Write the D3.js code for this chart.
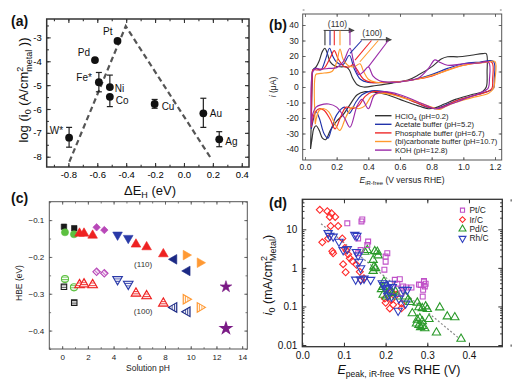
<!DOCTYPE html>
<html><head><meta charset="utf-8">
<script src="https://cdn.jsdelivr.net/npm/d3@7"></script>
<style>body{margin:0;background:#fff}svg{display:block}</style>
</head><body><svg id="c" width="525" height="383"></svg>
<script>
// ---------------- Panel (a) data ----------------
const aMetal = ["Pt","Pd","Fe*","Ni","Co","Cu","Au","Ag","W*"];
const aDEH   = [-0.46,-0.616,-0.589,-0.513,-0.513,-0.203,0.134,0.244,-0.795];
const aLogI0 = [-3.15,-3.95,-4.88,-5.08,-5.49,-5.79,-6.18,-7.27,-7.2];
const aErrHi = [null,null,-4.47,-4.58,null,-5.6,-5.55,-6.95,-6.77];
const aErrLo = [null,null,-5.28,null,-5.9,-5.97,-6.77,-7.58,-7.6];
const aVolcanoX = [-0.793,-0.403,0.187];
const aVolcanoY = [-8.21,-2.53,-8.07];
const aXTicks = [-0.8,-0.6,-0.4,-0.2,0.0,0.2,0.4];
const aYTicks = [-3,-4,-5,-6,-7,-8];

// ---------------- Panel (b) data ----------------
const bHClO4 = [[0.035,-40],[0.04,-20],[0.045,5],[0.05,11],[0.07,13],[0.09,17],[0.11,23],[0.126,25],[0.14,22],[0.16,16],[0.19,13.5],[0.23,13],[0.26,13],[0.28,11],[0.3,6],[0.33,1.5],[0.37,0],[0.45,1],[0.55,2.5],[0.65,4.5],[0.72,8],[0.8,13],[0.86,18],[0.9,19.5],[0.97,19.5],[1.05,20.5],[1.12,21.5],[1.145,21.5],[1.15,10],[1.145,0],[1.12,-3],[1.05,-5],[0.95,-8],[0.88,-11],[0.82,-13.5],[0.78,-14],[0.74,-13],[0.68,-11],[0.6,-8],[0.52,-5],[0.45,-3.5],[0.38,-3],[0.33,-5],[0.28,-12],[0.24,-18],[0.2,-22],[0.16,-28],[0.13,-34],[0.11,-33],[0.09,-28],[0.07,-25],[0.055,-27],[0.045,-33],[0.035,-40]];
const bAcetate = [[0.04,-27],[0.045,5],[0.05,11],[0.07,12],[0.1,11],[0.13,18],[0.155,25],[0.175,20],[0.2,16],[0.24,14.5],[0.28,20.5],[0.31,12],[0.35,5],[0.4,3],[0.5,3],[0.6,3.5],[0.7,5],[0.8,8],[0.9,12],[1.0,15],[1.1,16],[1.19,16.5],[1.195,5],[1.19,-1],[1.15,-3],[1.05,-6],[0.95,-9],[0.87,-12.5],[0.82,-14],[0.77,-13],[0.7,-10],[0.6,-6],[0.5,-3],[0.42,-2.5],[0.36,-5],[0.32,-10],[0.28,-17],[0.25,-13],[0.2,-18],[0.17,-26],[0.145,-33],[0.12,-30],[0.09,-20],[0.07,-16],[0.055,-20],[0.04,-27]];
const bPhosphate = [[0.04,-26],[0.045,5],[0.05,11],[0.08,11],[0.12,12],[0.16,19],[0.185,23.5],[0.21,18],[0.25,13],[0.28,13],[0.305,14.5],[0.33,11],[0.37,5],[0.42,3],[0.5,3],[0.6,3.5],[0.7,5],[0.8,7],[0.9,11],[1.0,14],[1.1,15.5],[1.18,16],[1.185,5],[1.18,-1],[1.15,-3],[1.05,-6],[0.95,-9],[0.88,-12.5],[0.83,-14],[0.78,-13],[0.7,-10],[0.6,-6],[0.5,-3.5],[0.43,-3],[0.38,-6],[0.34,-12],[0.3,-14],[0.26,-13],[0.23,-18],[0.19,-27],[0.16,-21],[0.12,-15],[0.09,-14],[0.06,-17],[0.04,-26]];
const bCarbonate = [[0.065,-24],[0.068,8],[0.08,8.5],[0.12,9],[0.17,10],[0.2,16],[0.221,24.5],[0.24,18],[0.27,14],[0.31,13],[0.347,15],[0.37,10],[0.4,5],[0.45,3],[0.55,3],[0.65,4],[0.75,6],[0.85,9],[0.95,12.5],[1.05,15],[1.15,16],[1.2,16.5],[1.2,5],[1.19,-1],[1.16,-4],[1.05,-7],[0.95,-10],[0.88,-13],[0.85,-14.5],[0.8,-13],[0.72,-10],[0.62,-7],[0.55,-5],[0.47,-4],[0.42,-6],[0.38,-12],[0.34,-14],[0.3,-13],[0.26,-19],[0.22,-28],[0.19,-24],[0.15,-16],[0.12,-14],[0.09,-15],[0.07,-21],[0.065,-24]];
const bKOH = [[0.04,-25],[0.05,10],[0.07,12],[0.1,11.5],[0.15,12],[0.2,12.5],[0.24,16],[0.284,25],[0.31,15],[0.34,8],[0.37,10],[0.4,13],[0.43,7],[0.47,4],[0.55,3],[0.65,4],[0.72,6],[0.78,12],[0.82,17.5],[0.85,16],[0.9,14],[1.0,15],[1.1,15.5],[1.16,16],[1.165,5],[1.155,-1],[1.1,-4],[1.0,-8],[0.92,-11],[0.86,-13.5],[0.82,-14],[0.78,-12.5],[0.7,-9],[0.6,-5],[0.5,-3],[0.44,-5],[0.4,-14],[0.36,-8],[0.33,-12],[0.284,-26],[0.25,-20],[0.2,-13],[0.15,-11],[0.1,-11.5],[0.07,-13],[0.05,-17],[0.04,-25]];
const bNames = ["HClO4","Acetate buffer (pH=5.2)","Phosphate buffer (pH=6.7)","(bi)carbonate buffer (pH=10.7)","KOH (pH=12.8)"];
const bPeak110V = [0.126,0.158,0.185,0.221,0.284];
const bPeak100From = [0.358,0.42,0.463,0.526];
const bPeak100ToV = [0.284,0.316,0.347,0.4];
const bPeak100ToI = [21.7,17.4,16.3,13];
const bXTicks = [0,0.2,0.4,0.6,0.8,1.0,1.2];
const bYTicks = [-40,-30,-20,-10,0,10,20,30,40];

// ---------------- Panel (c) data ----------------
const cSqPH=[0.14,0.94],  cSq110=[-0.118,-0.122],  cSq100=[-0.281,-0.324];
const cCirPH=[0.22,0.92], cCir110=[-0.133,-0.1385], cCir100=[-0.26,-0.2825];
const cUpPH=[1.35,1.7,2.37,5.74,6.57,7.87];
const cUp110=[-0.136,-0.136,-0.1415,-0.1657,-0.173,-0.192];
const cUp100=[-0.276,-0.274,-0.276,-0.299,-0.306,-0.326];
const cDiaPH=[2.68,3.28], cDia110=[-0.1195,-0.127], cDia100=[-0.24,-0.2445];
const cDnPH=[4.31,5.14],  cDn110=[-0.140,-0.149],  cDn100=[-0.261,-0.2735];
const cLfPH=[8.7,9.73],   cLf110=[-0.2065,-0.238], cLf100=[-0.337,-0.349];
const cRtPH=[9.63,10.72], cRt110=[-0.195,-0.2157], cRt100=[-0.315,-0.337];
const cStPH=[12.74],      cSt110=[-0.281],         cSt100=[-0.394];
const cXTicks=[0,2,4,6,8,10,12,14];
const cYTicks=[-0.1,-0.2,-0.3,-0.4];

// ---------------- Panel (d) data ----------------
const dPt = [[0.108,14.3],[0.142,16],[0.144,18],[0.134,5.8],[0.158,4.8],[0.156,3.9],[0.134,2.4],[0.14,2.9],[0.204,2.4],[0.2,1.96],[0.2,1.45],[0.197,0.9],[0.222,0.49],[0.234,0.51],[0.242,0.33],[0.249,0.31],[0.262,0.31],[0.284,0.36],[0.292,0.44],[0.294,0.33],[0.29,0.27],[0.289,0.18],[0.296,0.39],[0.28,0.37],[0.292,0.46],[0.228,0.39],[0.238,0.22]];
const dIr = [[0.042,32],[0.06,29.6],[0.07,26],[0.066,21],[0.079,21],[0.068,12.2],[0.086,12.2],[0.048,4.6],[0.062,5.8],[0.074,2.4],[0.072,2.7],[0.096,5.8],[0.102,3.3],[0.106,2.8],[0.11,2.24],[0.114,1.78],[0.12,1.5],[0.098,1.25],[0.104,0.77],[0.138,0.79],[0.141,0.49],[0.148,0.54],[0.13,1.2],[0.198,0.16],[0.2,0.125],[0.21,0.089],[0.214,0.15],[0.218,0.11],[0.2145,0.24],[0.226,0.2],[0.238,0.09],[0.238,0.12]];
const dPd = [[0.15,2.6],[0.156,2.9],[0.174,2.7],[0.18,2.6],[0.182,2.1],[0.17,1.6],[0.172,1.07],[0.176,0.98],[0.17,0.83],[0.196,0.44],[0.194,0.32],[0.19,0.28],[0.194,0.2],[0.202,0.18],[0.21,0.27],[0.216,0.22],[0.224,0.24],[0.228,0.18],[0.248,0.18],[0.254,0.15],[0.258,0.13],[0.264,0.066],[0.276,0.125],[0.28,0.095],[0.288,0.09],[0.296,0.1],[0.3,0.085],[0.33,0.094],[0.276,0.045],[0.282,0.049],[0.288,0.041],[0.28,0.033],[0.288,0.031],[0.294,0.027],[0.284,0.029],[0.274,0.036],[0.304,0.047],[0.322,0.021],[0.348,0.055],[0.366,0.052],[0.381,0.0145]];
const dRh = [[0.062,8],[0.066,6.8],[0.074,6.5],[0.088,4.8],[0.108,3.1],[0.098,2.9],[0.126,7.2],[0.131,6.8],[0.13,2.6],[0.134,2.1],[0.136,1.45],[0.14,0.98],[0.128,0.5],[0.14,0.5],[0.148,0.53],[0.164,0.49],[0.192,0.4],[0.196,0.36],[0.2,0.28],[0.204,0.3],[0.214,0.39],[0.216,0.32],[0.205,0.19],[0.214,0.18],[0.23,0.078],[0.232,0.16],[0.248,0.12],[0.242,0.27],[0.252,0.27]];
const dNames = ["Pt/C","Ir/C","Pd/C","Rh/C"];
const dRegX = [0.045,0.376], dRegY = [14,0.015];
const dXTicks=[0,0.1,0.2,0.3,0.4];
const dYTicks=[0.01,0.1,1,10];

// =================================================
const FONT = '"Liberation Sans", Arial, Helvetica, sans-serif';
const svg = d3.select("#c");
svg.append("rect").attr("width",525).attr("height",383).attr("fill","#fff");
const defs = svg.append("defs");

function styleAxis(s, o){
  s.select(".domain").remove();
  s.selectAll("line").attr("stroke", o.sc).attr("stroke-width", o.tw);
  s.selectAll("text").attr("font-size", o.fs).attr("font-family", FONT).attr("fill", o.tc);
}
function frame(g, x, y, o){
  const [xa, xb] = x.range(); const [yb, ya] = y.range();
  const blank = () => "";
  const mk = (fn, sc, vals, size, fmt, pad) => fn(sc).tickValues(vals).tickSizeInner(-size).tickSizeOuter(0).tickPadding(pad||3).tickFormat(fmt||blank);
  const add = (tr, ax) => g.append("g").attr("transform", tr).call(ax).call(styleAxis, o);
  add(`translate(0,${yb})`, mk(d3.axisBottom, x, o.xMajor, o.tl, o.xFmt, o.xPad));
  add(`translate(0,${yb})`, mk(d3.axisBottom, x, o.xMinor, o.ml));
  add(`translate(0,${ya})`, mk(d3.axisTop, x, o.xMajor, o.tl));
  add(`translate(0,${ya})`, mk(d3.axisTop, x, o.xMinor, o.ml));
  add(`translate(${xa},0)`, mk(d3.axisLeft, y, o.yMajor, o.tl, o.yFmt, o.yPad));
  add(`translate(${xa},0)`, mk(d3.axisLeft, y, o.yMinor, o.ml));
  add(`translate(${xb},0)`, mk(d3.axisRight, y, o.yMajor, o.tl));
  add(`translate(${xb},0)`, mk(d3.axisRight, y, o.yMinor, o.ml));
  g.append("rect").attr("x", xa).attr("y", ya).attr("width", xb - xa).attr("height", yb - ya)
    .attr("fill", "none").attr("stroke", o.fc).attr("stroke-width", o.fw);
}
function panelLabel(t, x, y){
  svg.append("text").attr("x", x).attr("y", y).attr("font-family", FONT).attr("font-weight", "bold")
    .attr("font-size", 14).attr("fill", "#111").text(t);
}
const rangeStep = (a, b, s) => d3.range(Math.round(a/s), Math.round(b/s) + 1).map(k => +(k*s).toFixed(6));

// ================= Panel (a) =================
{
  const g = svg.append("g");
  const x = d3.scaleLinear().domain([-0.95, 0.45]).range([46.7, 249]);
  const y = d3.scaleLinear().domain([-8.43, -2.23]).range([167, 19]);
  frame(g, x, y, {xMajor: aXTicks, xMinor: rangeStep(-0.9, 0.4, 0.1), yMajor: aYTicks, yMinor: rangeStep(-8, -2.5, 0.5),
    tl: 4, ml: 2.2, tw: 1.1, sc: "#333", fc: "#333", fw: 1.5, fs: 9.5, tc: "#000",
    xFmt: d => d.toFixed(1), yFmt: d => String(d), xPad: 4, yPad: 5});
  g.append("path").datum(aVolcanoX.map((v, i) => [v, aVolcanoY[i]]))
    .attr("d", d3.line().x(d => x(d[0])).y(d => y(d[1])))
    .attr("fill", "none").attr("stroke", "#555").attr("stroke-width", 2.2).attr("stroke-dasharray", "5.5,3.5");
  aMetal.forEach((m, i) => {
    const cx = x(aDEH[i]);
    const hi = aErrHi[i] == null ? aLogI0[i] : aErrHi[i];
    const lo = aErrLo[i] == null ? aLogI0[i] : aErrLo[i];
    if (hi === lo) return;
    g.append("line").attr("x1", cx).attr("x2", cx).attr("y1", y(hi)).attr("y2", y(lo)).attr("stroke", "#222").attr("stroke-width", 1.2);
    if (aErrHi[i] != null) g.append("line").attr("x1", cx-3).attr("x2", cx+3).attr("y1", y(hi)).attr("y2", y(hi)).attr("stroke", "#222").attr("stroke-width", 1.2);
    if (aErrLo[i] != null) g.append("line").attr("x1", cx-3).attr("x2", cx+3).attr("y1", y(lo)).attr("y2", y(lo)).attr("stroke", "#222").attr("stroke-width", 1.2);
  });
  g.selectAll("circle.pt").data(aMetal).join("circle")
    .attr("cx", (d, i) => x(aDEH[i])).attr("cy", (d, i) => y(aLogI0[i])).attr("r", 3.9).attr("fill", "#111");
  const labOff = {"Pt":["end",-5,-6],"Pd":["end",-5,-4],"Fe*":["end",-7,-1],"Ni":["start",5,4.5],"Co":["start",6,7],
    "Cu":["start",7,6.5],"Au":["start",6.5,3.5],"Ag":["start",6,5.5],"W*":["end",-6,-3.5]};
  aMetal.forEach((m, i) => {
    const o = labOff[m];
    g.append("text").attr("x", x(aDEH[i]) + o[1]).attr("y", y(aLogI0[i]) + o[2]).attr("text-anchor", o[0])
      .attr("font-family", FONT).attr("font-size", 10).attr("fill", "#111").text(m);
  });
  const xt = g.append("text").attr("x", 150).attr("y", 195).attr("text-anchor", "middle").attr("font-family", FONT).attr("font-size", 13).attr("fill", "#111");
  xt.append("tspan").text("ΔE");
  xt.append("tspan").attr("font-size", 9).attr("dy", 3).text("H");
  xt.append("tspan").attr("dy", -3).text(" (eV)");
  const yt = g.append("text").attr("transform", "translate(28,90) rotate(-90)").attr("text-anchor", "middle").attr("font-family", FONT).attr("font-size", 13).attr("fill", "#111");
  yt.append("tspan").text("log (i");
  yt.append("tspan").attr("font-size", 9).attr("dy", 3).text("0");
  yt.append("tspan").attr("dy", -3).text(" (A/cm");
  yt.append("tspan").attr("font-size", 9).attr("dy", -5).text("2");
  yt.append("tspan").attr("font-size", 9).attr("dx", -5).attr("dy", 9).text("metal");
  yt.append("tspan").attr("dy", -4).text(" ))");
  panelLabel("(a)", 11, 26);
}

// ================= Panel (b) =================
{
  const g = svg.append("g");
  const x = d3.scaleLinear().domain([-0.0145, 1.2423]).range([302.7, 501.7]);
  const y = d3.scaleLinear().domain([-47.1, 47.1]).range([160, 14]);
  frame(g, x, y, {xMajor: bXTicks, xMinor: rangeStep(0.1, 1.1, 0.2), yMajor: bYTicks, yMinor: rangeStep(-45, 45, 10),
    tl: 3, ml: 1.8, tw: 0.8, sc: "#555", fc: "#555", fw: 1, fs: 8.5, tc: "#222",
    xFmt: d => d.toFixed(1), yFmt: d => String(d), xPad: 4, yPad: 4});
  defs.append("clipPath").attr("id", "clipb").append("rect").attr("x", 302.7).attr("y", 14).attr("width", 199).attr("height", 146);
  const cols = ["#333333", "#2233aa", "#ee2a2a", "#ff9a2e", "#9a2aa8"];
  const curves = [bHClO4, bAcetate, bPhosphate, bCarbonate, bKOH];
  const line = d3.line().x(d => x(d[0])).y(d => y(d[1])).curve(d3.curveCatmullRom.alpha(0.5));
  const cg = g.append("g").attr("clip-path", "url(#clipb)");
  curves.forEach((c, k) => cg.append("path").datum(c).attr("d", line).attr("fill", "none").attr("stroke", cols[k]).attr("stroke-width", 1.15));
  defs.append("marker").attr("id", "arr").attr("viewBox", "0 0 10 10").attr("refX", 9).attr("refY", 5)
    .attr("markerWidth", 7).attr("markerHeight", 6).attr("orient", "auto").attr("markerUnits", "userSpaceOnUse")
    .append("path").attr("d", "M0,0 L10,5 L0,10 z").attr("fill", "#444");
  g.append("line").attr("x1", x(0.118)).attr("x2", x(0.31)).attr("y1", y(36.5)).attr("y2", y(36.5))
    .attr("stroke", "#444").attr("stroke-width", 1).attr("marker-end", "url(#arr)");
  bPeak110V.forEach((v, k) => g.append("line").attr("x1", x(v)).attr("x2", x(v)).attr("y1", y(36.5)).attr("y2", y(27))
    .attr("stroke", cols[k]).attr("stroke-width", 1.1));
  g.append("text").attr("x", x(0.205)).attr("y", y(38.5)).attr("text-anchor", "middle").attr("font-family", FONT).attr("font-size", 8.5).attr("fill", "#333").text("(110)");
  g.append("line").attr("x1", x(0.352)).attr("x2", x(0.545)).attr("y1", y(30.5)).attr("y2", y(30.5))
    .attr("stroke", "#444").attr("stroke-width", 1).attr("marker-end", "url(#arr)");
  bPeak100From.forEach((v, k) => g.append("line").attr("x1", x(v)).attr("x2", x(bPeak100ToV[k])).attr("y1", y(30)).attr("y2", y(bPeak100ToI[k]))
    .attr("stroke", cols[k+1]).attr("stroke-width", 1.1));
  g.append("text").attr("x", x(0.425)).attr("y", y(32.6)).attr("text-anchor", "middle").attr("font-family", FONT).attr("font-size", 8.5).attr("fill", "#333").text("(100)");
  const ly0 = 115.7, ldy = 8.6;
  bNames.forEach((n, k) => {
    const yy = ly0 + k*ldy;
    g.append("line").attr("x1", 375).attr("x2", 391.5).attr("y1", yy).attr("y2", yy).attr("stroke", cols[k]).attr("stroke-width", 1.4);
    const t = g.append("text").attr("x", 395).attr("y", yy + 2.8).attr("font-family", FONT).attr("font-size", 7.6).attr("fill", "#222");
    if (k === 0) { t.append("tspan").text("HClO"); t.append("tspan").attr("font-size", 5.5).attr("dy", 2).text("4"); t.append("tspan").attr("dy", -2).text(" (pH=0.2)"); }
    else t.text(n);
  });
  const xt = g.append("text").attr("x", 402).attr("y", 183).attr("text-anchor", "middle").attr("font-family", FONT).attr("font-size", 8.5).attr("fill", "#222");
  xt.append("tspan").attr("font-style", "italic").text("E");
  xt.append("tspan").attr("font-size", 6).attr("dy", 2).text("iR-free");
  xt.append("tspan").attr("dy", -2).text(" (V versus RHE)");
  const yt = g.append("text").attr("transform", "translate(276,87) rotate(-90)").attr("text-anchor", "middle").attr("font-family", FONT).attr("font-size", 8.5).attr("fill", "#222");
  yt.append("tspan").attr("font-style", "italic").text("i");
  yt.append("tspan").text(" (μA)");
  panelLabel("(b)", 269, 30);
}

// ================= Panel (c) =================
{
  const g = svg.append("g");
  const x = d3.scaleLinear().domain([-1, 14.4]).range([49.3, 247.3]);
  const y = d3.scaleLinear().domain([-0.45, -0.05]).range([349, 201.7]);
  frame(g, x, y, {xMajor: cXTicks, xMinor: rangeStep(-1, 14, 1), yMajor: cYTicks, yMinor: rangeStep(-0.45, -0.05, 0.05),
    tl: 3, ml: 1.8, tw: 0.8, sc: "#555", fc: "#555", fw: 1, fs: 8, tc: "#222",
    xFmt: d => String(d), yFmt: d => "−" + Math.abs(d).toFixed(1), xPad: 5, yPad: 5});
  const colsC = {sq: "#1a1a1a", cir: "#5cc040", up: "#ee2222", dia: "#b848b8", dn: "#2a3aa8", lf: "#1c2a85", rt: "#ff9933", st: "#7a1a85"};
  Object.entries(colsC).forEach(([k, c]) => {
    const p = defs.append("pattern").attr("id", "h-" + k).attr("patternUnits", "userSpaceOnUse").attr("width", 4).attr("height", 2.4);
    p.append("rect").attr("width", 4).attr("height", 2.4).attr("fill", "#fff");
    p.append("rect").attr("width", 4).attr("height", 1).attr("fill", c).attr("opacity", 0.9);
  });
  const sets = [
    ["sq", cSqPH, cSq110, cSq100, d3.symbolSquare, 30, 0],
    ["cir", cCirPH, cCir110, cCir100, d3.symbolCircle, 40, 0],
    ["up", cUpPH, cUp110, cUp100, d3.symbolTriangle, 40, 0],
    ["dia", cDiaPH, cDia110, cDia100, d3.symbolSquare, 28, 45],
    ["dn", cDnPH, cDn110, cDn100, d3.symbolTriangle, 40, 180],
    ["lf", cLfPH, cLf110, cLf100, d3.symbolTriangle, 40, -90],
    ["rt", cRtPH, cRt110, cRt100, d3.symbolTriangle, 40, 90],
    ["st", cStPH, cSt110, cSt100, d3.symbolStar, 42, 0]
  ];
  sets.forEach(([k, ph, u, l, sym, sz, rot]) => {
    const c = colsC[k];
    const p = d3.symbol().type(sym).size(sz)();
    ph.forEach((v, i) => {
      g.append("path").attr("d", p).attr("transform", `translate(${x(v)},${y(u[i])}) rotate(${rot})`).attr("fill", c).attr("stroke", c).attr("stroke-width", 0.6);
      g.append("path").attr("d", p).attr("transform", `translate(${x(v)},${y(l[i])}) rotate(${rot})`)
        .attr("fill", k === "st" ? c : `url(#h-${k})`).attr("stroke", c).attr("stroke-width", 1.1);
    });
  });
  g.append("text").attr("x", x(6.3)).attr("y", y(-0.219) + 3).attr("text-anchor", "middle").attr("font-family", FONT).attr("font-size", 8).attr("fill", "#333").text("(110)");
  g.append("text").attr("x", x(6.3)).attr("y", y(-0.347) + 3).attr("text-anchor", "middle").attr("font-family", FONT).attr("font-size", 8).attr("fill", "#333").text("(100)");
  g.append("text").attr("x", 148).attr("y", 371).attr("text-anchor", "middle").attr("font-family", FONT).attr("font-size", 8.5).attr("fill", "#222").text("Solution pH");
  g.append("text").attr("transform", "translate(22,283) rotate(-90)").attr("text-anchor", "middle").attr("font-family", FONT).attr("font-size", 8.5).attr("fill", "#222").text("HBE (eV)");
  panelLabel("(c)", 11, 203);
}

// ================= Panel (d) =================
{
  const g = svg.append("g");
  const x = d3.scaleLinear().domain([0, 0.48]).range([302.3, 502.3]);
  const y = d3.scaleLog().domain([0.00904, 60]).range([346.7, 199.3]);
  const minorY = [];
  [0.001, 0.01, 0.1, 1, 10].forEach(b => { for (let m = 2; m <= 9; m++) { const v = +(b*m).toPrecision(3); if (v > 0.00904 && v < 60) minorY.push(v); } });
  frame(g, x, y, {xMajor: dXTicks, xMinor: rangeStep(0.05, 0.45, 0.1), yMajor: dYTicks, yMinor: minorY,
    tl: 4, ml: 2.2, tw: 1, sc: "#333", fc: "#333", fw: 1.3, fs: 10, tc: "#111",
    xFmt: d => d.toFixed(1), yFmt: d => String(d), xPad: 5, yPad: 5});
  g.append("path").datum(dRegX.map((v, i) => [v, dRegY[i]]))
    .attr("d", d3.line().x(d => x(d[0])).y(d => y(d[1])))
    .attr("stroke", "#888").attr("stroke-width", 1.2).attr("stroke-dasharray", "2,2").attr("fill", "none");
  const cfg = [
    [dPt, "#c050c8", d3.symbolSquare, 24, 0],
    [dIr, "#ff2a2a", d3.symbolSquare, 24, 45],
    [dPd, "#2a9a2a", d3.symbolTriangle, 30, 0],
    [dRh, "#2f3fbf", d3.symbolTriangle, 30, 180]
  ];
  const drawOrder = [1, 2, 0, 3];
  drawOrder.forEach(k => {
    const [data, c, sym, sz, rot] = cfg[k];
    const p = d3.symbol().type(sym).size(sz)();
    data.forEach(d => g.append("path").attr("d", p).attr("transform", `translate(${x(d[0])},${y(d[1])}) rotate(${rot})`)
      .attr("fill", "none").attr("stroke", c).attr("stroke-width", 1.1));
  });
  const ly = [210.2, 219.6, 229.0, 238.4];
  dNames.forEach((n, k) => {
    const [, c, sym, sz, rot] = cfg[k];
    g.append("path").attr("d", d3.symbol().type(sym).size(sz * 0.7)()).attr("transform", `translate(462.5,${ly[k]}) rotate(${rot})`)
      .attr("fill", "none").attr("stroke", c).attr("stroke-width", 1.1);
    g.append("text").attr("x", 469.5).attr("y", ly[k] + 3).attr("font-family", FONT).attr("font-size", 8.4).attr("fill", "#222").text(n);
  });
  const xt = g.append("text").attr("x", 399).attr("y", 374).attr("text-anchor", "middle").attr("font-family", FONT).attr("font-size", 12.5).attr("fill", "#111");
  xt.append("tspan").attr("font-style", "italic").text("E");
  xt.append("tspan").attr("font-size", 8.5).attr("dy", 3).text("peak, iR-free");
  xt.append("tspan").attr("dy", -3).text(" vs RHE (V)");
  const yt = g.append("text").attr("transform", "translate(272,275) rotate(-90)").attr("text-anchor", "middle").attr("font-family", FONT).attr("font-size", 12.5).attr("fill", "#111");
  yt.append("tspan").attr("font-style", "italic").text("i");
  yt.append("tspan").attr("font-size", 9).attr("dy", 3).text("0");
  yt.append("tspan").attr("dy", -3).text(" (mA/cm");
  yt.append("tspan").attr("font-size", 9).attr("dy", -5).text("2");
  yt.append("tspan").attr("font-size", 9).attr("dx", -5).attr("dy", 9).text("Metal");
  yt.append("tspan").attr("dy", -4).text(")");
  panelLabel("(d)", 269, 208);
}
</script></body></html>
